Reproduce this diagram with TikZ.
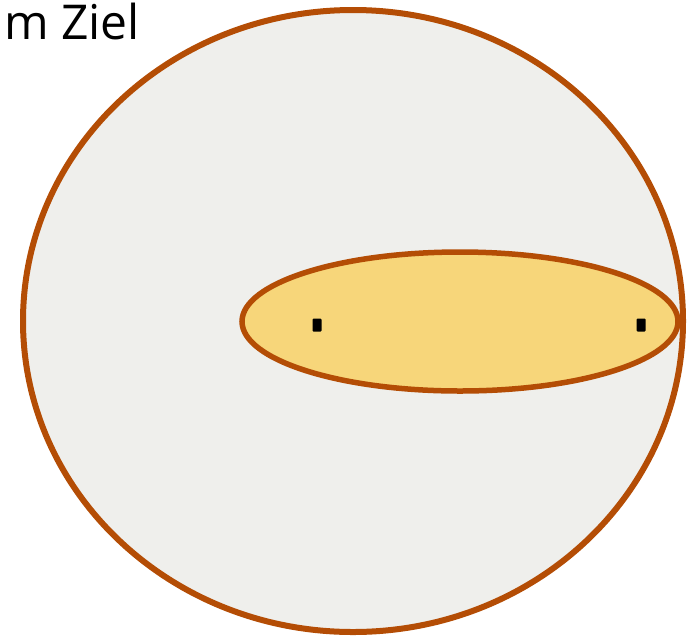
\documentclass[tikz,border=0pt]{standalone}
\usepackage{fontspec}
\setmainfont{Open Sans}
\usetikzlibrary{shapes.geometric}
\definecolor{rim}{HTML}{B44D05}
\definecolor{bgfill}{HTML}{EFEFEC}
\definecolor{yel}{HTML}{F7D67A}
\tikzset{
  outerset/.style={draw=rim, line width=6pt, fill=bgfill},
  innerset/.style={draw=rim, line width=5.5pt, fill=yel},
  pointmark/.style={fill=black, minimum width=9pt, minimum height=13pt, inner sep=0pt, rounded corners=1pt},
  labeltext/.style={font=\fontsize{48}{56}\selectfont, inner sep=0pt, anchor=base west}
}
\begin{document}
\begin{tikzpicture}[x=1pt, y=-1pt]
\useasboundingbox (0,0) rectangle (692,638);
\node[outerset, ellipse, minimum width=660pt, minimum height=622pt, inner sep=0pt] (outer) at (353,321) {};
\node[innerset, ellipse, minimum width=436pt, minimum height=139pt, inner sep=0pt] (inner) at (460,321.5) {};
\node[pointmark] (p1) at (317,325) {};
\node[pointmark] (p2) at (641,325) {};
\node[labeltext] (lbl) at (4,39) {m Ziel};
\end{tikzpicture}
\end{document}
